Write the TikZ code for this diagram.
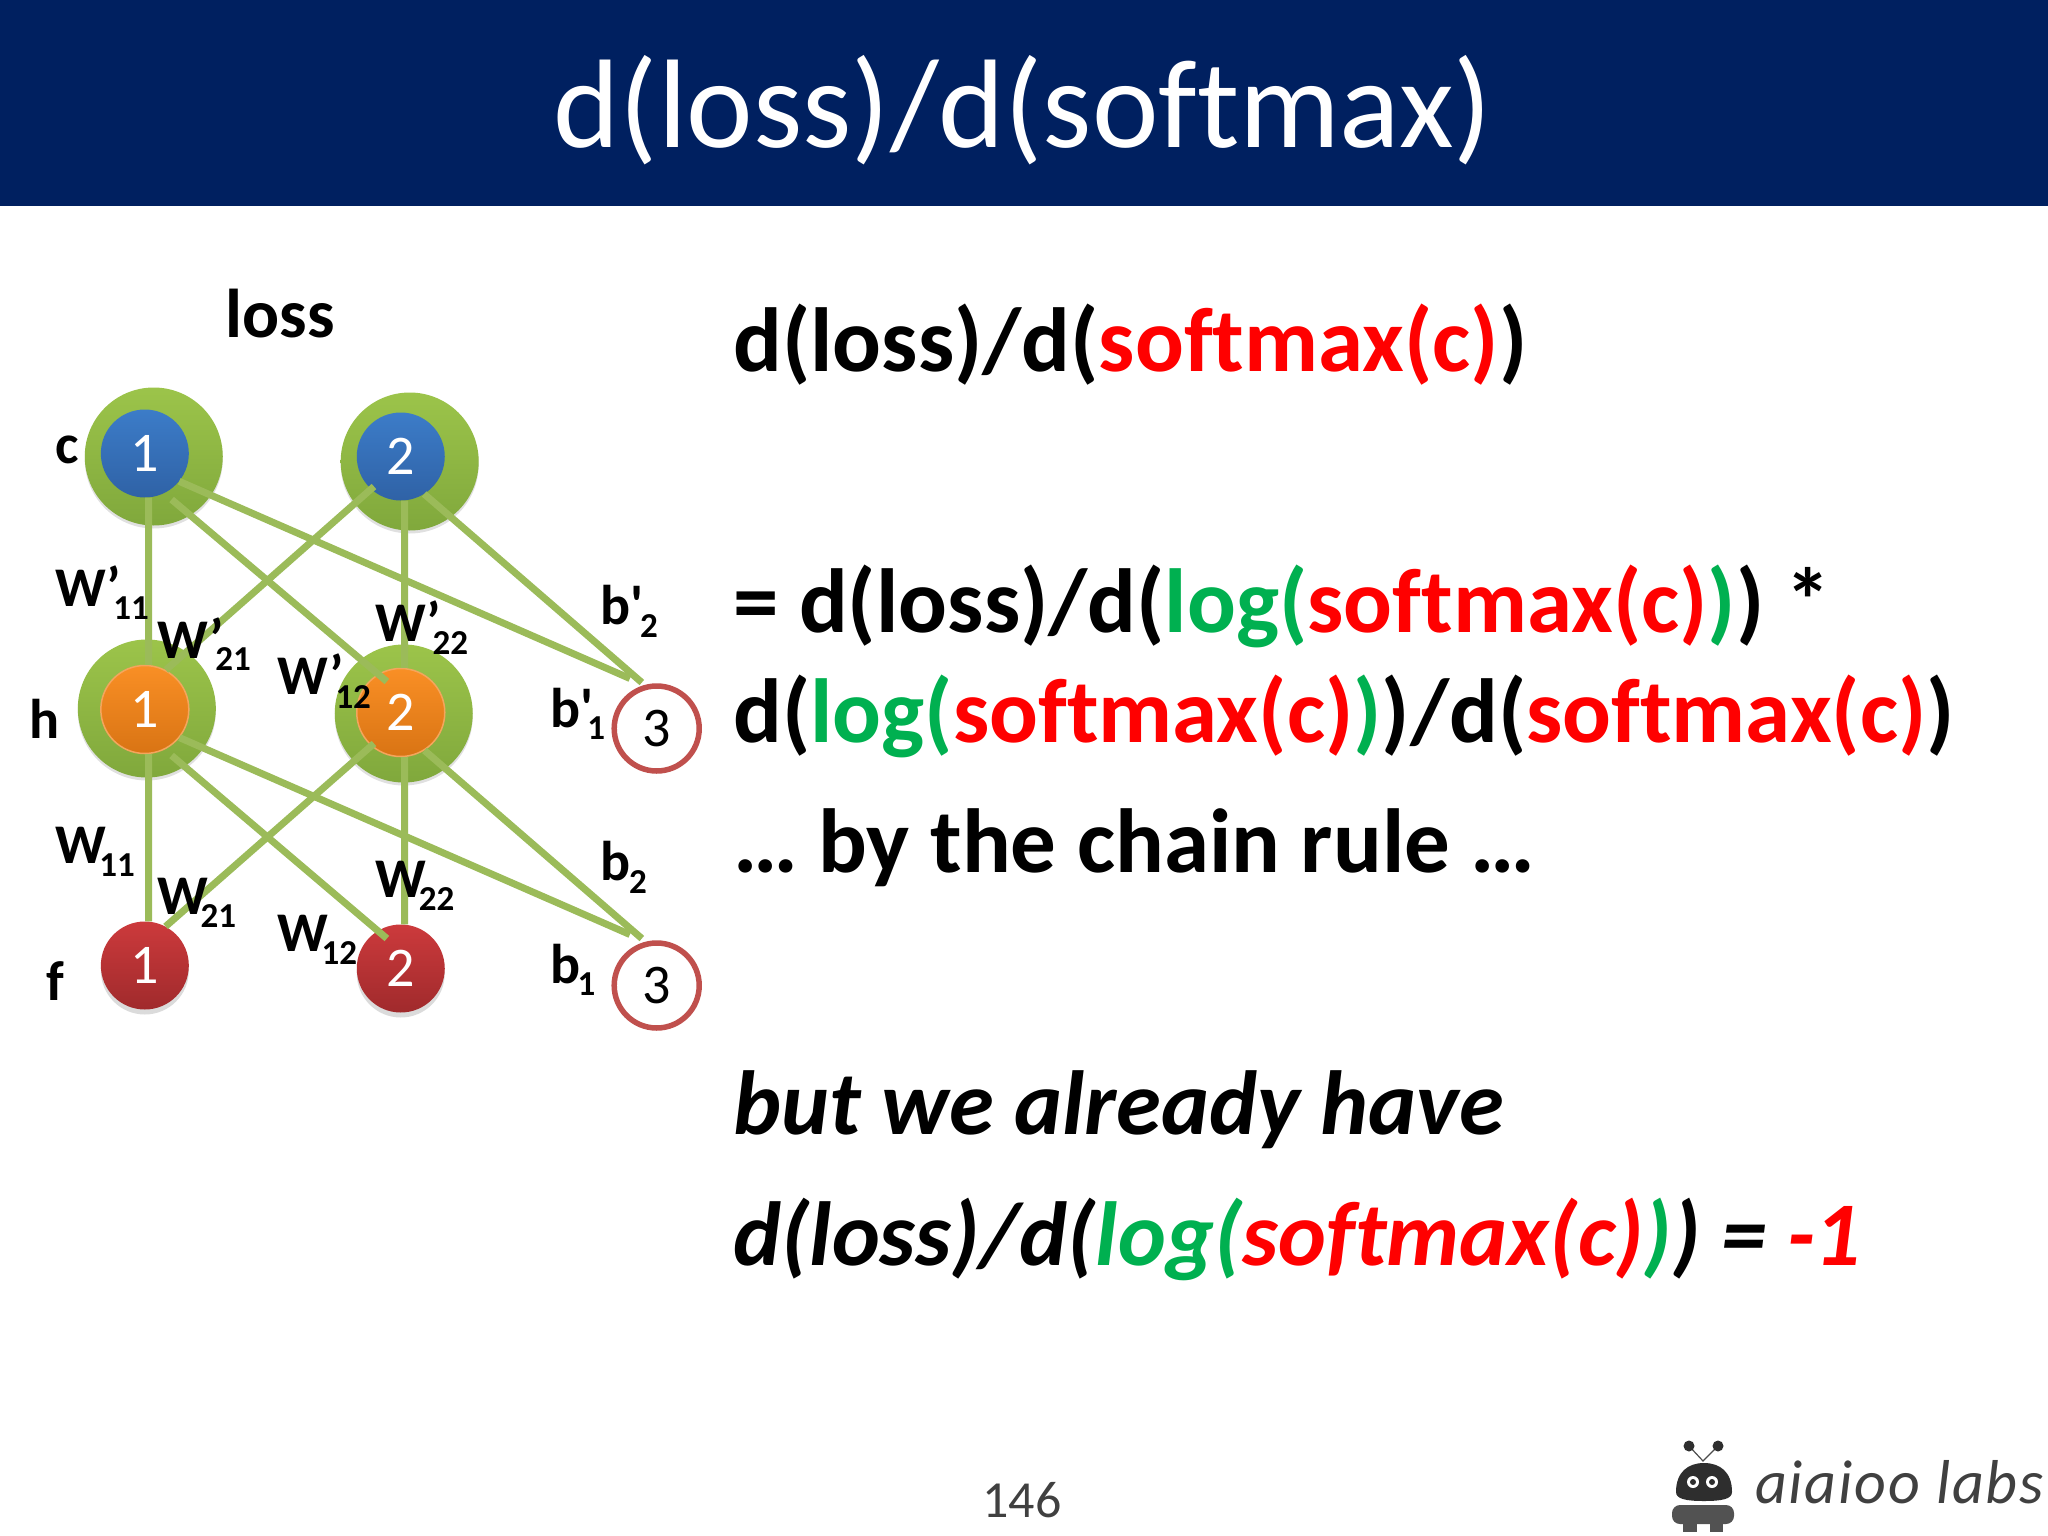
\documentclass[tikz,border=0pt]{standalone}
\usepackage{fontspec}
\setmainfont{Carlito}[Ligatures={TeX,NoCommon}]
\newfontfamily\plainf{Carlito}[Ligatures=NoCommon]
\usetikzlibrary{shadows}
\definecolor{barblue}{HTML}{002060}
\definecolor{edgegreen}{HTML}{9BBB59}
\definecolor{ringred}{HTML}{C0504D}
\definecolor{tred}{HTML}{FF0000}
\definecolor{tgreen}{HTML}{00B050}
\definecolor{halo1}{HTML}{9CC44A}
\definecolor{halo2}{HTML}{80A83C}
\definecolor{blue1}{HTML}{3C7CC8}
\definecolor{blue2}{HTML}{2F62A6}
\definecolor{orange1}{HTML}{F98F25}
\definecolor{orange2}{HTML}{D97414}
\definecolor{orange3}{HTML}{F5A55C}
\definecolor{red1}{HTML}{CC3A3C}
\definecolor{red2}{HTML}{A02A2C}
\newcommand{\Rd}[1]{\textcolor{tred}{#1}}
\newcommand{\Gn}[1]{\textcolor{tgreen}{#1}}
\newcommand{\wlab}[7]{%
  \node[lab] (#1) at (#2,#3) {#4};
  \node[sublab] (#1s) at (#5,#6) {#7};}
\tikzset{
  x=1pt,y=-1pt,
  outerc/.style={circle,minimum size=138pt,inner sep=0,top color=halo1,bottom color=halo2,
    drop shadow={shadow xshift=0pt,shadow yshift=-3pt,opacity=.12,fill=black}},
  innerc/.style={circle,minimum size=88pt,inner sep=0,text=white,font=\fontsize{56}{56}\selectfont},
  bluec/.style={innerc,top color=blue1,bottom color=blue2},
  orangec/.style={innerc,draw=orange3,line width=1.5pt,top color=orange1,bottom color=orange2},
  redc/.style={innerc,top color=red1,bottom color=red2,
    drop shadow={shadow xshift=0pt,shadow yshift=-5pt,opacity=.14,fill=black}},
  ring/.style={circle,draw=ringred,line width=5.5pt,fill=white,minimum size=85pt,inner sep=0,font=\fontsize{56}{56}\selectfont},
  conn/.style={draw=edgegreen,line width=7pt},
  lab/.style={anchor=base west,inner sep=0,font=\fontsize{56}{56}\selectfont\bfseries},
  sublab/.style={anchor=base west,inner sep=0,font=\fontsize{35}{35}\selectfont\bfseries},
  body/.style={anchor=base west,inner sep=0,font=\fontsize{91}{90}\selectfont\bfseries},
  bodyi/.style={body,font=\fontsize{91}{90}\selectfont\bfseries\itshape},
  logofill/.style={fill=black!82},
}
\begin{document}
\begin{tikzpicture}
\useasboundingbox (0,0) rectangle (2048,1536);
\fill[white] (0,0) rectangle (2048,1536);
\fill[barblue] (0,0) rectangle (2048,206);
\node[anchor=base,inner sep=0,text=white,font=\fontsize{126}{126}\selectfont] (title) at (1023,148) {d(loss)/d(softmax)};

\begin{scope}[x=0.992pt,shift={(0,1.5)}]
% outer halos
\node[outerc] (c1o) at (155,455) {};
\node[outerc] (c2o) at (413,460) {};
\node[outerc] (h1o) at (148,707) {};
\node[outerc] (h2o) at (407,712) {};
% units
\node[bluec] (c1) at (146,452) {1};
\node[bluec] (c2) at (404,455) {2};
\node[orangec] (h1) at (146,708) {1};
\node[orangec] (h2) at (404,711) {2};
\node[redc] (f1) at (146,964) {1};
\node[redc] (f2) at (404,967) {2};
\node[ring] (bp) at (662,727) {3};
\node[ring] (b) at (662,984) {3};

% connector ends that stop off a node's rim
\coordinate (bpa) at (635,677);
\coordinate (bpb) at (647,681);
\coordinate (ba) at (635,933);
\coordinate (bb) at (647,937);
\coordinate (h2in) at (390,680);
\coordinate (f2in) at (390,937);
\coordinate (h1out) at (173,754);
\coordinate (c1out) at (173,498);
\coordinate (h2up) at (377,742);
\coordinate (c2up) at (377,485);

\draw[conn] (c1.-85) -- (h1.85);
\draw[conn] (c1out) -- (h2in);
\draw[conn] (c1.-39) -- (bpa);
\draw[conn] (c2up) -- (h1.62);
\draw[conn] (c2.-85) -- (h2.85);
\draw[conn] (c2.-58) -- (bpb);

\draw[conn] (h1.-85) -- (f1.85);
\draw[conn] (h1out) -- (f2in);
\draw[conn] (h1.-39) -- (ba);
\draw[conn] (h2up) -- (f1.62);
\draw[conn] (h2.-85) -- (f2.85);
\draw[conn] (h2.-58) -- (bb);

% labels
\node[lab,font=\fontsize{69}{69}\selectfont\bfseries] (loss) at (227,336) {loss};
\node[lab] (cl) at (56,462) {c};
\node[lab] (hl) at (30,737) {h};
\node[lab] (fl) at (47,999) {f};
\wlab{wp11}{56}{605}{W’}{114}{618}{11}
\wlab{wp21}{159}{657}{W’}{217}{669}{21}
\wlab{wp22}{378}{640}{W’}{436}{653}{22}
\wlab{wp12}{280}{693}{W’}{338}{707}{12}
\wlab{bp2}{605}{623}{\plainf b'}{645}{636}{2}
\wlab{bp1}{555}{726}{\plainf b'}{592}{738}{1}
\wlab{w11}{56}{862}{W}{100}{875}{11}
\wlab{w21}{159}{913}{W}{202}{926}{21}
\wlab{w22}{378}{896}{W}{422}{909}{22}
\wlab{w12}{280}{950}{W}{324}{963}{12}
\wlab{b2}{605}{879}{b}{634}{892}{2}
\wlab{b1}{555}{982}{b}{582}{994}{1}
\end{scope}

% right-hand text
\node[body] (l1) at (733,371) {d(loss)/d(\Rd{softmax(c)})};
\node[body] (l2) at (733,632) {= d(loss)/d(\Gn{log(}\Rd{softmax(c)}\Gn{)}) *};
\node[body] (l3) at (733,742) {d(\Gn{log(}\Rd{softmax(c)}\Gn{)})/d(\Rd{softmax(c)})};
\node[body] (l4) at (733,872) {… by the chain rule …};
\node[bodyi] (l5) at (733,1134) {but we already have};
\node[bodyi] (l6) at (733,1265) {d(loss)/d(\Gn{log(}\Rd{softmax(c)}\Gn{)}) = \Rd{-1}};

\node[anchor=base,inner sep=0,text=black!75,font=\fontsize{52}{52}\selectfont] (pg) at (1022,1517) {146};

% logo
\draw[black!70,line width=1.2pt] (1689,1446) -- (1703,1461) -- (1718,1446);
\fill[logofill] (1689,1446) circle (5.5);
\fill[logofill] (1718,1446) circle (5.5);
\fill[logofill] (1676,1492) .. controls (1676,1472) and (1688,1463) .. (1704,1463) .. controls (1720,1463) and (1732,1472) .. (1732,1492) .. controls (1732,1499) and (1722,1501) .. (1704,1501) .. controls (1686,1501) and (1676,1499) .. (1676,1492) -- cycle;
\fill[white] (1693,1482) circle (6);
\fill[white] (1712,1482) circle (6);
\fill[logofill] (1693,1482) circle (3);
\fill[logofill] (1712,1482) circle (3);
\fill[black!68,rounded corners=8pt] (1672,1505) rectangle (1734,1524);
\fill[black!68] (1683,1520) rectangle (1697,1532);
\fill[black!68] (1710,1520) rectangle (1723,1532);
\node[anchor=base west,inner sep=0,text=black!75,font=\fontsize{62}{62}\selectfont\itshape] (logo) at (1755,1503) {\addfontfeature{LetterSpace=3}aiaioo labs};
\end{tikzpicture}
\end{document}
